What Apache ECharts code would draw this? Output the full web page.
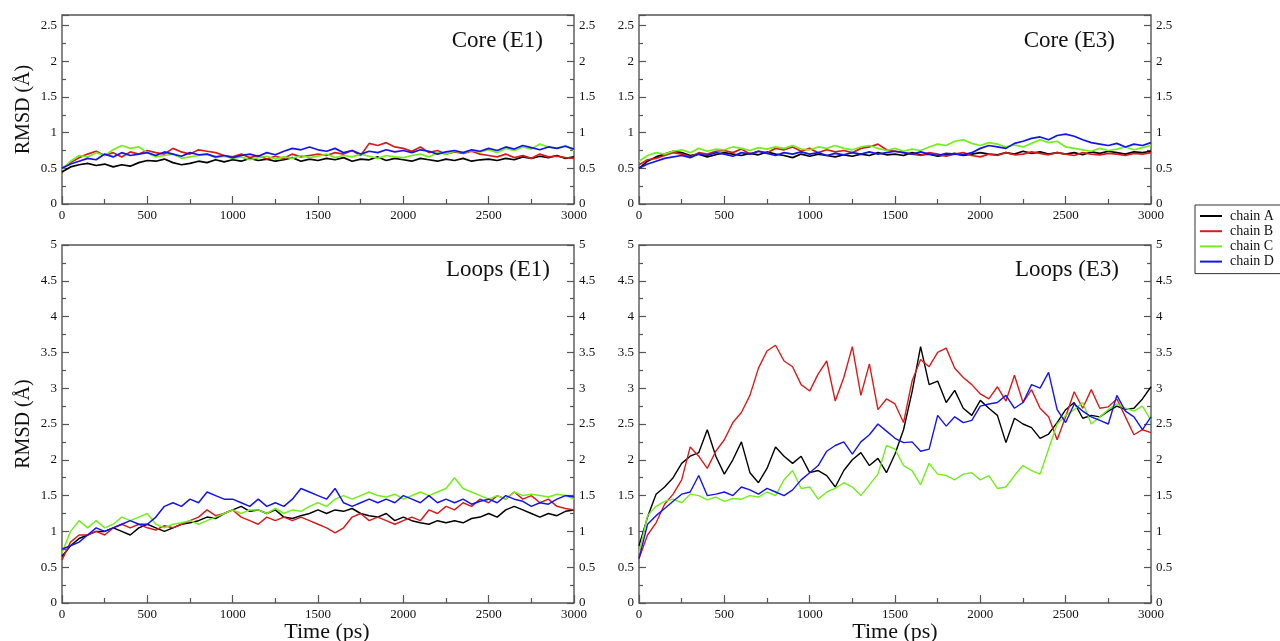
<!DOCTYPE html>
<html>
<head>
<meta charset="utf-8">
<script src="https://cdn.jsdelivr.net/npm/echarts@6/dist/echarts.min.js"></script>
<style>html,body{margin:0;padding:0;background:#fff;}#c{width:1280px;height:641px;}</style>
</head>
<body>
<div id="c"></div>
<script>
const TIME = [0,50,100,150,200,250,300,350,400,450,500,550,600,650,700,750,800,850,900,950,
1000,1050,1100,1150,1200,1250,1300,1350,1400,1450,1500,1550,1600,1650,1700,1750,1800,1850,1900,1950,
2000,2050,2100,2150,2200,2250,2300,2350,2400,2450,2500,2550,2600,2650,2700,2750,2800,2850,2900,2950,3000];

const CHAINS = ['chain A','chain B','chain C','chain D'];
const PANEL_TITLES = ['Core (E1)','Core (E3)','Loops (E1)','Loops (E3)'];
const Y_TICKS_CORE = [0,0.5,1,1.5,2,2.5];
const Y_TICKS_LOOPS = [0,0.5,1,1.5,2,2.5,3,3.5,4,4.5,5];
const X_TICKS = [0,500,1000,1500,2000,2500,3000];

// Core (E1)
const CORE_E1_A = [0.45,0.52,0.55,0.57,0.54,0.56,0.52,0.55,0.53,0.58,
0.61,0.6,0.63,0.58,0.55,0.57,0.6,0.58,0.62,0.59,
0.62,0.6,0.64,0.61,0.63,0.6,0.62,0.65,0.6,0.63,
0.61,0.64,0.62,0.65,0.6,0.63,0.62,0.66,0.61,0.64,
0.62,0.6,0.64,0.62,0.6,0.63,0.61,0.64,0.6,0.62,
0.63,0.61,0.64,0.62,0.66,0.64,0.67,0.65,0.68,0.64,0.66];
const CORE_E1_B = [0.5,0.58,0.65,0.7,0.74,0.68,0.72,0.66,0.73,0.7,
0.75,0.72,0.7,0.78,0.73,0.7,0.76,0.74,0.72,0.68,
0.66,0.7,0.65,0.68,0.63,0.67,0.64,0.7,0.66,0.68,
0.7,0.68,0.72,0.7,0.75,0.68,0.85,0.82,0.86,0.8,
0.78,0.74,0.8,0.72,0.75,0.7,0.73,0.71,0.74,0.7,
0.68,0.66,0.7,0.65,0.68,0.64,0.7,0.66,0.67,0.65,0.64];
const CORE_E1_C = [0.48,0.6,0.68,0.66,0.72,0.68,0.76,0.82,0.78,0.8,
0.72,0.66,0.68,0.7,0.64,0.66,0.68,0.7,0.65,0.67,
0.64,0.66,0.62,0.65,0.67,0.63,0.66,0.64,0.68,0.65,
0.67,0.7,0.65,0.68,0.66,0.7,0.67,0.64,0.68,0.66,
0.65,0.68,0.7,0.66,0.72,0.7,0.74,0.72,0.75,0.73,
0.76,0.72,0.78,0.75,0.8,0.77,0.84,0.8,0.78,0.82,0.75];
const CORE_E1_D = [0.5,0.56,0.6,0.64,0.62,0.7,0.66,0.72,0.68,0.7,
0.72,0.68,0.73,0.7,0.67,0.72,0.69,0.7,0.66,0.68,
0.65,0.68,0.7,0.67,0.72,0.69,0.74,0.78,0.76,0.8,
0.76,0.74,0.78,0.72,0.75,0.7,0.74,0.72,0.76,0.73,
0.75,0.72,0.76,0.74,0.7,0.73,0.75,0.72,0.76,0.74,
0.78,0.75,0.8,0.77,0.82,0.79,0.76,0.8,0.78,0.81,0.77];

// Core (E3)
const CORE_E3_A = [0.5,0.6,0.66,0.7,0.74,0.72,0.68,0.7,0.66,0.69,
0.72,0.7,0.68,0.71,0.69,0.73,0.7,0.68,0.65,0.7,
0.67,0.7,0.68,0.66,0.69,0.67,0.7,0.68,0.72,0.69,
0.7,0.68,0.72,0.69,0.7,0.67,0.69,0.71,0.68,0.7,
0.72,0.7,0.69,0.72,0.7,0.74,0.71,0.73,0.7,0.72,
0.7,0.72,0.69,0.73,0.71,0.74,0.72,0.7,0.73,0.72,0.74];
const CORE_E3_B = [0.55,0.62,0.64,0.68,0.72,0.7,0.66,0.72,0.7,0.74,
0.75,0.72,0.77,0.7,0.74,0.72,0.78,0.76,0.8,0.74,
0.78,0.72,0.76,0.73,0.75,0.72,0.78,0.8,0.84,0.76,
0.74,0.72,0.7,0.68,0.72,0.7,0.67,0.7,0.72,0.68,
0.66,0.7,0.68,0.72,0.69,0.7,0.73,0.71,0.69,0.72,
0.7,0.68,0.72,0.7,0.69,0.71,0.7,0.68,0.71,0.7,0.72];
const CORE_E3_C = [0.6,0.68,0.72,0.7,0.74,0.76,0.72,0.78,0.74,0.77,
0.76,0.8,0.78,0.75,0.79,0.77,0.8,0.78,0.82,0.77,
0.76,0.8,0.78,0.82,0.78,0.76,0.8,0.82,0.78,0.75,
0.78,0.74,0.77,0.75,0.8,0.84,0.82,0.88,0.9,0.85,
0.82,0.86,0.84,0.8,0.83,0.8,0.85,0.9,0.86,0.88,
0.8,0.78,0.76,0.74,0.78,0.75,0.77,0.8,0.76,0.79,0.82];
const CORE_E3_D = [0.5,0.56,0.6,0.64,0.66,0.68,0.65,0.7,0.68,0.72,
0.7,0.67,0.72,0.7,0.74,0.71,0.68,0.72,0.7,0.73,
0.7,0.72,0.68,0.71,0.69,0.72,0.7,0.73,0.7,0.72,
0.74,0.72,0.7,0.73,0.7,0.68,0.71,0.7,0.69,0.72,
0.78,0.82,0.8,0.78,0.85,0.88,0.92,0.94,0.9,0.96,
0.98,0.95,0.9,0.86,0.84,0.82,0.85,0.8,0.84,0.82,0.86];

// Loops (E1)
const LOOPS_E1_A = [0.65,0.8,0.9,0.95,1.0,1.0,1.05,1.0,0.95,1.05,
1.1,1.05,1.0,1.05,1.1,1.12,1.15,1.2,1.18,1.25,
1.3,1.35,1.28,1.3,1.25,1.3,1.2,1.18,1.22,1.25,
1.3,1.25,1.3,1.28,1.32,1.25,1.22,1.2,1.25,1.15,
1.2,1.15,1.12,1.1,1.15,1.12,1.15,1.12,1.18,1.2,
1.25,1.2,1.3,1.35,1.3,1.25,1.2,1.25,1.22,1.28,1.3];
const LOOPS_E1_B = [0.6,0.85,0.95,0.95,1.0,0.95,1.05,1.1,1.05,1.1,
1.05,1.02,1.08,1.05,1.1,1.15,1.2,1.3,1.22,1.25,
1.3,1.2,1.15,1.1,1.2,1.15,1.2,1.15,1.2,1.15,
1.1,1.05,0.98,1.05,1.2,1.25,1.15,1.2,1.15,1.1,
1.15,1.2,1.15,1.3,1.25,1.35,1.3,1.4,1.35,1.45,
1.4,1.5,1.45,1.55,1.45,1.5,1.4,1.45,1.35,1.32,1.3];
const LOOPS_E1_C = [0.7,1.0,1.15,1.05,1.15,1.05,1.1,1.2,1.15,1.2,
1.25,1.1,1.05,1.1,1.12,1.15,1.1,1.15,1.2,1.25,
1.3,1.25,1.3,1.3,1.25,1.32,1.25,1.3,1.28,1.35,
1.4,1.35,1.45,1.5,1.45,1.5,1.55,1.5,1.48,1.52,
1.45,1.5,1.55,1.5,1.55,1.6,1.75,1.6,1.55,1.5,
1.45,1.5,1.45,1.55,1.5,1.52,1.5,1.48,1.52,1.5,1.45];
const LOOPS_E1_D = [0.75,0.8,0.85,0.95,1.05,1.0,1.05,1.1,1.15,1.1,
1.1,1.2,1.35,1.4,1.35,1.45,1.4,1.55,1.5,1.45,
1.45,1.4,1.35,1.45,1.35,1.4,1.35,1.45,1.6,1.55,
1.5,1.45,1.6,1.4,1.35,1.4,1.45,1.4,1.45,1.4,
1.5,1.45,1.4,1.5,1.4,1.45,1.4,1.45,1.38,1.42,
1.45,1.4,1.5,1.45,1.42,1.35,1.4,1.38,1.45,1.5,1.48];

// Loops (E3)
const LOOPS_E3_A = [0.8,1.2,1.52,1.62,1.75,1.95,2.05,2.1,2.42,2.05,
1.8,2.0,2.25,1.82,1.68,1.88,2.18,2.05,1.95,2.05,
1.82,1.85,1.78,1.62,1.85,2.0,2.1,1.92,2.02,1.82,
2.08,2.42,2.95,3.58,3.05,3.1,2.8,2.97,2.72,2.62,
2.83,2.72,2.62,2.24,2.58,2.5,2.45,2.3,2.36,2.52,
2.7,2.8,2.58,2.62,2.6,2.68,2.75,2.7,2.72,2.85,3.02];
const LOOPS_E3_B = [0.62,0.95,1.12,1.38,1.52,1.72,2.18,2.05,1.88,2.12,
2.28,2.52,2.66,2.9,3.28,3.52,3.6,3.38,3.3,3.05,
2.96,3.2,3.38,2.82,3.15,3.58,2.9,3.34,2.7,2.85,
2.78,2.52,3.1,3.4,3.3,3.5,3.56,3.28,3.15,3.05,
2.92,2.85,3.02,2.82,3.18,2.8,2.98,2.72,2.6,2.28,
2.6,2.95,2.72,2.98,2.72,2.74,2.85,2.6,2.35,2.42,2.38];
const LOOPS_E3_C = [0.7,1.22,1.35,1.42,1.45,1.4,1.52,1.5,1.44,1.48,
1.42,1.46,1.45,1.5,1.48,1.55,1.5,1.72,1.85,1.6,
1.62,1.45,1.55,1.6,1.68,1.62,1.5,1.65,1.8,2.2,
2.15,1.92,1.85,1.65,1.95,1.8,1.78,1.72,1.8,1.82,
1.72,1.78,1.6,1.62,1.78,1.92,1.85,1.8,2.15,2.5,
2.62,2.7,2.8,2.5,2.6,2.7,2.78,2.72,2.68,2.75,2.55];
const LOOPS_E3_D = [0.62,1.1,1.22,1.32,1.42,1.52,1.55,1.78,1.5,1.52,
1.55,1.5,1.62,1.58,1.52,1.6,1.55,1.5,1.58,1.72,
1.82,1.92,2.12,2.2,2.25,2.08,2.25,2.35,2.5,2.4,
2.3,2.24,2.25,2.12,2.15,2.62,2.47,2.6,2.52,2.55,
2.75,2.78,2.8,2.9,2.72,2.8,3.05,3.0,3.22,2.7,
2.52,2.78,2.68,2.6,2.55,2.5,2.9,2.68,2.6,2.42,2.6];

const PANEL_DATA = [
  [CORE_E1_A, CORE_E1_B, CORE_E1_C, CORE_E1_D],
  [CORE_E3_A, CORE_E3_B, CORE_E3_C, CORE_E3_D],
  [LOOPS_E1_A, LOOPS_E1_B, LOOPS_E1_C, LOOPS_E1_D],
  [LOOPS_E3_A, LOOPS_E3_B, LOOPS_E3_C, LOOPS_E3_D]
];

const FONT = "'Liberation Serif', 'Times New Roman', serif";
const COLORS = ['#000000', '#d81c1c', '#74ee1c', '#1414f0'];
const AXIS_COLOR = '#555555';

const GRIDS = [
  {left: 62, top: 15, width: 512, height: 189},
  {left: 639, top: 15, width: 512, height: 189},
  {left: 62, top: 245, width: 512, height: 358},
  {left: 639, top: 245, width: 512, height: 358}
];
const TITLE_POS = [
  {right: 737, top: 29},
  {right: 165, top: 29},
  {right: 730, top: 258},
  {right: 161, top: 258}
];
const LINE_WIDTH = [1.7, 1.7, 1.5, 1.4];
const XNAME_PAD = [[0,0,0,0],[0,0,0,0],[0,0,0,18],[0,0,0,0]];

const yTickSets = [Y_TICKS_CORE, Y_TICKS_CORE, Y_TICKS_LOOPS, Y_TICKS_LOOPS];
const yMax = [2.65, 2.65, 5, 5];

const grid = GRIDS.map(g => Object.assign({
  show: true, borderColor: AXIS_COLOR, borderWidth: 1.4, backgroundColor: 'transparent',
  containLabel: false, outerBoundsMode: 'none'
}, g));

const labelStyle = {color: '#111', fontSize: 13, fontFamily: FONT, formatter: v => String(v)};

const xAxis = GRIDS.map((g, i) => ({
  type: 'value', gridIndex: i, min: X_TICKS[0], max: X_TICKS[X_TICKS.length - 1],
  interval: X_TICKS[1] - X_TICKS[0],
  axisLine: {show: false},
  axisTick: {show: true, inside: true, length: 8, lineStyle: {color: AXIS_COLOR, width: 1.2}},
  minorTick: {show: true, splitNumber: 2, length: 5, lineStyle: {color: AXIS_COLOR, width: 1.2}},
  splitLine: {show: false},
  axisLabel: Object.assign({margin: 5}, labelStyle),
  name: i >= 2 ? 'Time (ps)' : '',
  nameLocation: 'middle', nameGap: 18, nameMoveOverlap: false,
  nameTextStyle: {fontSize: 22, fontFamily: FONT, color: '#111', padding: XNAME_PAD[i]}
}));

const yAxis = [];
GRIDS.forEach((g, i) => {
  const ticks = yTickSets[i];
  const base = {
    type: 'value', gridIndex: i, min: ticks[0], max: yMax[i], interval: ticks[1] - ticks[0],
    axisLine: {show: false},
    axisTick: {show: true, inside: true, length: 7, lineStyle: {color: AXIS_COLOR, width: 1.2}},
    minorTick: {show: true, splitNumber: 2, length: 4, lineStyle: {color: AXIS_COLOR, width: 1.2}},
    splitLine: {show: false},
    axisLabel: Object.assign({margin: 5, showMaxLabel: yMax[i] === ticks[ticks.length - 1]}, labelStyle)
  };
  const left = Object.assign({}, base, {
    position: 'left',
    name: (i % 2 === 0) ? 'RMSD (Å)' : '',
    nameLocation: 'middle', nameGap: 28, nameMoveOverlap: false,
    nameTextStyle: {fontSize: 20, fontFamily: FONT, color: '#111'}
  });
  const right = Object.assign({}, base, {position: 'right', axisLabel: Object.assign({}, base.axisLabel, {align: 'left'})});
  yAxis.push(left, right);
});

const series = [];
PANEL_DATA.forEach((chains, i) => {
  chains.forEach((vals, c) => {
    series.push({
      type: 'line', name: CHAINS[c], xAxisIndex: i, yAxisIndex: i * 2,
      data: TIME.map((t, k) => [t, vals[k]]),
      symbol: 'none', showSymbol: false,
      lineStyle: {color: COLORS[c], width: LINE_WIDTH[i]},
      itemStyle: {color: COLORS[c]},
      silent: true, z: 2 + c
    });
  });
});

const title = PANEL_TITLES.map((t, i) => ({
  text: t, right: TITLE_POS[i].right, top: TITLE_POS[i].top, padding: 0,
  textStyle: {fontSize: 23, fontWeight: 'normal', fontFamily: FONT, color: '#111'}
}));

const option = {
  animation: false,
  backgroundColor: '#ffffff',
  title: title,
  grid: grid,
  xAxis: xAxis,
  yAxis: yAxis,
  legend: {
    data: CHAINS.map(n => ({name: n, icon: 'rect'})),
    orient: 'vertical', left: 1195, top: 205,
    itemWidth: 22, itemHeight: 2, itemGap: 1.2,
    padding: [4, 8, 5, 5],
    borderColor: '#333', borderWidth: 1, backgroundColor: '#fff',
    selectedMode: false,
    textStyle: {fontSize: 14, lineHeight: 14, fontFamily: FONT, color: '#111', padding: [0, 0, 0, 3]}
  },
  series: series
};

const chart = echarts.init(document.getElementById('c'), null, {renderer: 'canvas'});
chart.setOption(option);
</script>
</body>
</html>
